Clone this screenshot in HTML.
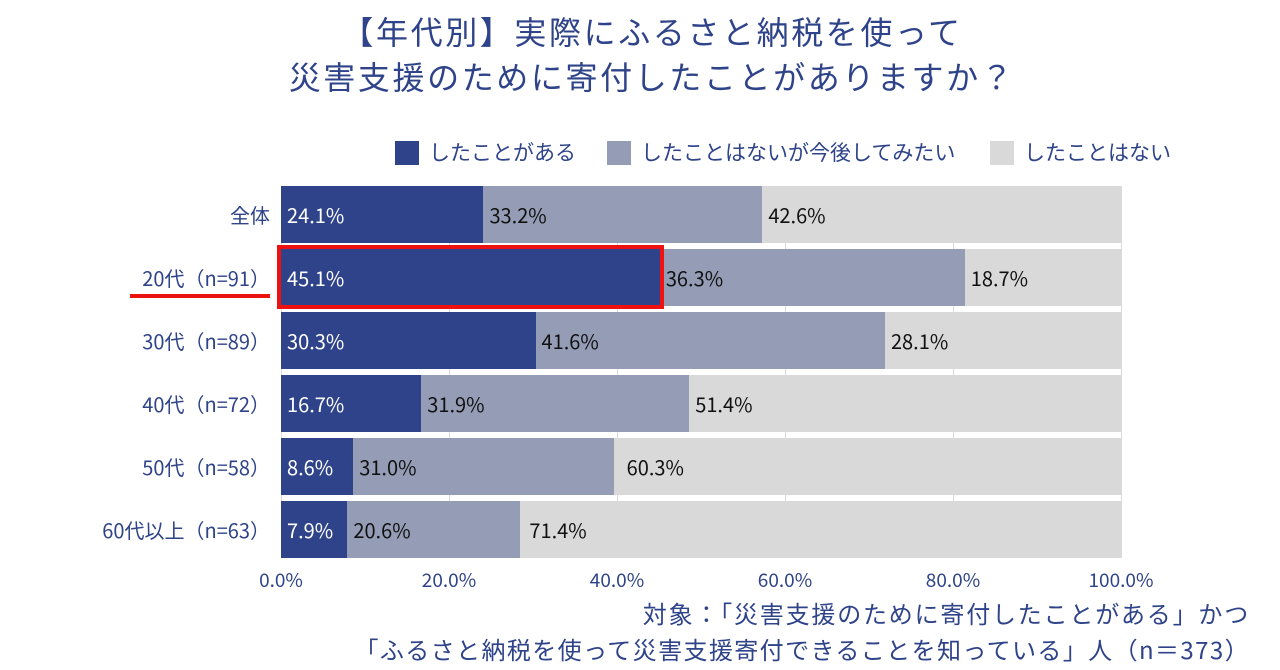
<!DOCTYPE html>
<html><head><meta charset="utf-8"><style>
body{margin:0;width:1280px;height:670px;background:#fff;position:relative;overflow:hidden;font-family:"Noto Sans CJK JP","Liberation Sans",sans-serif;}
.a{position:absolute;white-space:nowrap;}
.t{color:#2E4389;font-size:32px;left:12px;width:1280px;text-align:center;line-height:1.2;letter-spacing:2.6px;}
.lab{color:#2E4389;font-size:20px;right:1010px;text-align:right;line-height:57px;}
.bar{position:absolute;height:57px;}
.v{position:absolute;font-size:20px;line-height:57px;padding-left:5px;color:#111;}
.tick{color:#2E4389;font-size:19px;width:100px;text-align:center;top:566px;}
.g{position:absolute;top:186px;width:1px;height:372px;background:#d9d9d9;}
.f{right:30px;font-size:24px;color:#2E4389;letter-spacing:1.8px;}
</style></head><body>
<div class="a t" style="top:12px;">【年代別】実際にふるさと納税を使って</div>
<div class="a t" style="top:57px;">災害支援のために寄付したことがありますか？</div>

<div class="a" style="left:395px;top:141px;width:24px;height:24px;background:#2E4389"></div>
<div class="a" style="left:429px;top:137px;font-size:21px;color:#2E4389">したことがある</div>
<div class="a" style="left:607px;top:141px;width:24px;height:24px;background:#959DB6"></div>
<div class="a" style="left:641px;top:137px;font-size:21px;color:#2E4389">したことはないが今後してみたい</div>
<div class="a" style="left:990px;top:141px;width:24px;height:24px;background:#D9D9D9"></div>
<div class="a" style="left:1024px;top:137px;font-size:21px;color:#2E4389">したことはない</div>

<div class="g" style="left:281px"></div><div class="g" style="left:449px"></div><div class="g" style="left:617px"></div><div class="g" style="left:785px"></div><div class="g" style="left:953px"></div><div class="g" style="left:1121px"></div>

<div id="rows"></div>
<script>
var d=[["全体",24.1,33.2,42.6],["20代（n=91）",45.1,36.3,18.7],["30代（n=89）",30.3,41.6,28.1],["40代（n=72）",16.7,31.9,51.4],["50代（n=58）",8.6,31.0,60.3],["60代以上（n=63）",7.9,20.6,71.4]];
var h="",s=8.4;
d.forEach(function(r,i){var y=186+i*63,x=281;
h+='<div class="a lab" style="top:'+y+'px">'+r[0]+'</div>';
var c=["#2E4389","#959DB6","#D9D9D9"];
for(var k=0;k<3;k++){var w=r[k+1]*s;if(k==2)w=1121-x;
h+='<div class="bar" style="left:'+x+'px;top:'+y+'px;width:'+w+'px;background:'+c[k]+'"></div>';
var off=(k==2&&i==4)?7:(k==2&&i==5)?3:0;
h+='<div class="v" style="left:'+(x+off+1)+'px;top:'+y+'px;color:'+(k==0?'#fff':'#111')+'">'+r[k+1].toFixed(1)+'%</div>';
x+=r[k+1]*s;}
});
for(var j=0;j<=5;j++)h+='<div class="a tick" style="left:'+(231+j*168)+'px">'+(j*20).toFixed(1)+'%</div>';
document.getElementById("rows").innerHTML=h;
</script>
<div class="a" style="left:277px;top:245px;width:379px;height:56px;border:4px solid #EE1111"></div>
<div class="a" style="left:130px;top:294px;width:140px;height:4px;background:#EE1111"></div>
<div class="a f" style="top:595px;">対象：「災害支援のために寄付したことがある」かつ</div>
<div class="a f" style="top:631px;letter-spacing:1.4px;">「ふるさと納税を使って災害支援寄付できることを知っている」人（n＝373）</div>
</body></html>
